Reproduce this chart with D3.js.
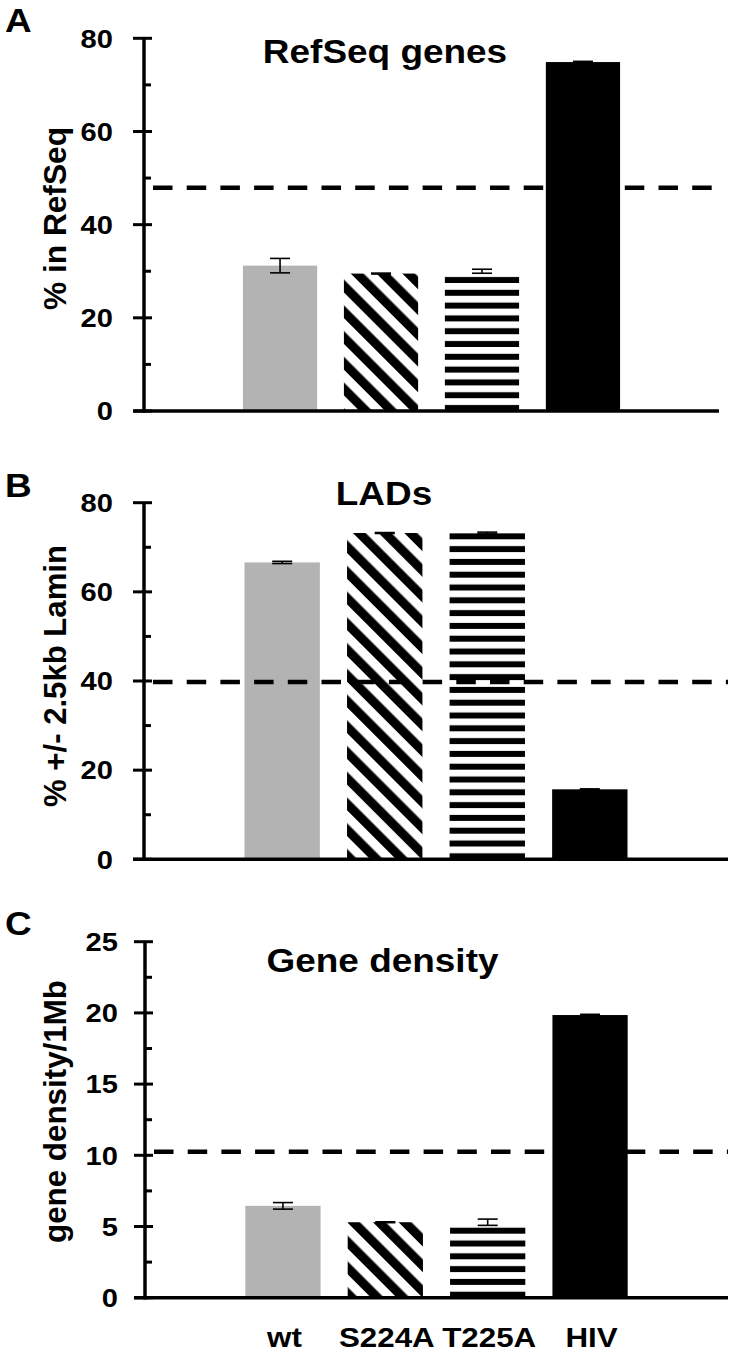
<!DOCTYPE html>
<html>
<head>
<meta charset="utf-8">
<script src="https://cdn.jsdelivr.net/npm/d3@7"></script>
<style>
  html, body { margin: 0; padding: 0; background: #fff; }
  svg { display: block; }
  text { font-family: "Liberation Sans", Arial, Helvetica, sans-serif; font-weight: bold; fill: #000; }
</style>
</head>
<body>
<svg id="chart" width="733" height="1353"></svg>
<script>
// ---- data ----
const categories = ["wt", "S224A", "T225A", "HIV"];
const fills = ["gray", "diag", "hstripe", "black"];

const refseqValues = [31.2, 29.5, 30.0, 74.9];
const refseqErrors = [1.55, 0.1, 0.43, 0.15];
const refseqReference = 47.9;
const refseqTicks = [0, 20, 40, 60, 80];

const ladValues = [66.6, 73.2, 73.2, 15.7];
const ladErrors = [0.25, 0.1, 0.2, 0.1];
const ladReference = 39.8;
const ladTicks = [0, 20, 40, 60, 80];

const densityValues = [6.45, 5.3, 5.3, 19.85];
const densityErrors = [0.23, 0.03, 0.22, 0.05];
const densityReference = 10.25;
const densityTicks = [0, 5, 10, 15, 20, 25];

// ---- layout ----
const SX = 1.12; // horizontal stretch of the glyphs
const panels = [
  { letter: "A", title: "RefSeq genes", label: "% in RefSeq", values: refseqValues, errors: refseqErrors,
    ref: refseqReference, ticks: refseqTicks, max: 80, minor: 10,
    x0: 144, x1: 719, yTop: 38.3, yBot: 411, letterY: 32, titleX: 385, titleY: 63, labelY: 218.5, labelLen: 183, tickRight: 113 },
  { letter: "B", title: "LADs", label: "% +/- 2.5kb Lamin", values: ladValues, errors: ladErrors,
    ref: ladReference, ticks: ladTicks, max: 80, minor: 10,
    x0: 144, x1: 728, yTop: 502.7, yBot: 859.3, letterY: 497, titleX: 384, titleY: 505, labelY: 676, labelLen: 262, tickRight: 113 },
  { letter: "C", title: "Gene density", label: "gene density/1Mb", values: densityValues, errors: densityErrors,
    ref: densityReference, ticks: densityTicks, max: 25, minor: 2.5,
    x0: 145, x1: 728, yTop: 941.7, yBot: 1297.7, letterY: 935, titleX: 382.5, titleY: 972, labelY: 1111.5, labelLen: 263, tickRight: 118, xLabels: true }
];

const svg = d3.select("#chart");
const defs = svg.append("defs");

// diagonal hatch (top-left to bottom-right)
const diag = defs.append("pattern")
  .attr("id", "diag").attr("patternUnits", "userSpaceOnUse")
  .attr("width", 18.2).attr("height", 18.2)
  .attr("patternTransform", "rotate(-45)");
diag.append("rect").attr("width", 18.2).attr("height", 18.2).attr("fill", "#fff");
diag.append("rect").attr("x", 0).attr("width", 9.1).attr("height", 18.2).attr("fill", "#000");

panels.forEach((p, pi) => {
  const g = svg.append("g");
  const y = d3.scaleLinear().domain([0, p.max]).range([p.yBot, p.yTop]);
  const x = d3.scaleBand().domain(categories).range([p.x0, p.x1]).paddingInner(0.265).paddingOuter(0.98);

  // horizontal stripe pattern anchored at the baseline
  const hs = defs.append("pattern")
    .attr("id", "hstripe" + pi).attr("patternUnits", "userSpaceOnUse")
    .attr("x", 0).attr("y", p.yBot).attr("width", 20).attr("height", 12.8);
  hs.append("rect").attr("width", 20).attr("height", 12.8).attr("fill", "#fff");
  hs.append("rect").attr("y", 6.8).attr("width", 20).attr("height", 6).attr("fill", "#000");

  const fillFor = (i) => {
    const f = fills[i];
    if (f === "gray") return "#b3b3b3";
    if (f === "black") return "#000";
    if (f === "diag") return "url(#diag)";
    return "url(#hstripe" + pi + ")";
  };

  // bars
  g.selectAll("rect.bar").data(p.values).join("rect")
    .attr("class", "bar")
    .attr("x", (d, i) => x(categories[i]))
    .attr("width", x.bandwidth())
    .attr("y", d => y(d))
    .attr("height", d => p.yBot - y(d))
    .attr("fill", (d, i) => fillFor(i));

  // error bars
  const eb = g.selectAll("g.err").data(p.values).join("g").attr("class", "err")
    .attr("stroke", "#000").attr("stroke-width", 1.6).attr("fill", "none");
  eb.each(function (d, i) {
    const cx = x(categories[i]) + x.bandwidth() / 2;
    const lo = y(d - p.errors[i]), hi = y(d + p.errors[i]);
    const s = d3.select(this);
    s.append("line").attr("x1", cx).attr("x2", cx).attr("y1", lo).attr("y2", hi);
    s.append("line").attr("x1", cx - 10).attr("x2", cx + 10).attr("y1", lo).attr("y2", lo);
    s.append("line").attr("x1", cx - 10).attr("x2", cx + 10).attr("y1", hi).attr("y2", hi);
  });

  // dashed reference line
  g.append("line")
    .attr("x1", p.x0 + 9).attr("x2", p.x1)
    .attr("y1", y(p.ref)).attr("y2", y(p.ref))
    .attr("stroke", "#000").attr("stroke-width", 4.5)
    .attr("stroke-dasharray", "19.5,14.2");

  // y axis line
  g.append("line").attr("x1", p.x0).attr("x2", p.x0).attr("y1", p.yTop).attr("y2", p.yBot + 1.75)
    .attr("stroke", "#000").attr("stroke-width", 3.5);
  // x axis line
  g.append("line").attr("x1", p.x0 - 11).attr("x2", p.x1).attr("y1", p.yBot).attr("y2", p.yBot)
    .attr("stroke", "#000").attr("stroke-width", 3.5);

  // major ticks
  g.selectAll("line.major").data(p.ticks).join("line").attr("class", "major")
    .attr("x1", p.x0 - 11).attr("x2", p.x0 + 8)
    .attr("y1", d => y(d)).attr("y2", d => y(d))
    .attr("stroke", "#000").attr("stroke-width", 3);
  // minor ticks
  const minorVals = d3.range(p.minor, p.max, p.minor * 2);
  g.selectAll("line.minor").data(minorVals).join("line").attr("class", "minor")
    .attr("x1", p.x0).attr("x2", p.x0 + 7)
    .attr("y1", d => y(d)).attr("y2", d => y(d))
    .attr("stroke", "#000").attr("stroke-width", 3);

  // tick labels
  g.selectAll("text.tick").data(p.ticks).join("text").attr("class", "tick")
    .attr("transform", d => `translate(${p.tickRight},${y(d) + 9.3}) scale(${SX},1)`)
    .attr("text-anchor", "end").attr("font-size", 26)
    .text(d => d);

  // panel letter
  g.append("text").attr("transform", `translate(5,${p.letterY}) scale(${SX},1)`)
    .attr("font-size", 33).text(p.letter);

  // title
  g.append("text").attr("transform", `translate(${p.titleX},${p.titleY}) scale(${SX},1)`)
    .attr("text-anchor", "middle").attr("font-size", 33).text(p.title);

  // y axis label
  g.append("text").attr("transform", `translate(66,${p.labelY}) scale(${SX},1) rotate(-90)`)
    .attr("text-anchor", "middle").attr("font-size", 28)
    .attr("textLength", p.labelLen).attr("lengthAdjust", "spacingAndGlyphs")
    .text(p.label);

  // category labels
  if (p.xLabels) {
    g.selectAll("text.cat").data(categories).join("text").attr("class", "cat")
      .attr("transform", d => `translate(${x(d) + x.bandwidth() / 2 + 1.5},1347) scale(${SX},1)`)
      .attr("text-anchor", "middle").attr("font-size", 28)
      .text(d => d);
  }
});
</script>
</body>
</html>
